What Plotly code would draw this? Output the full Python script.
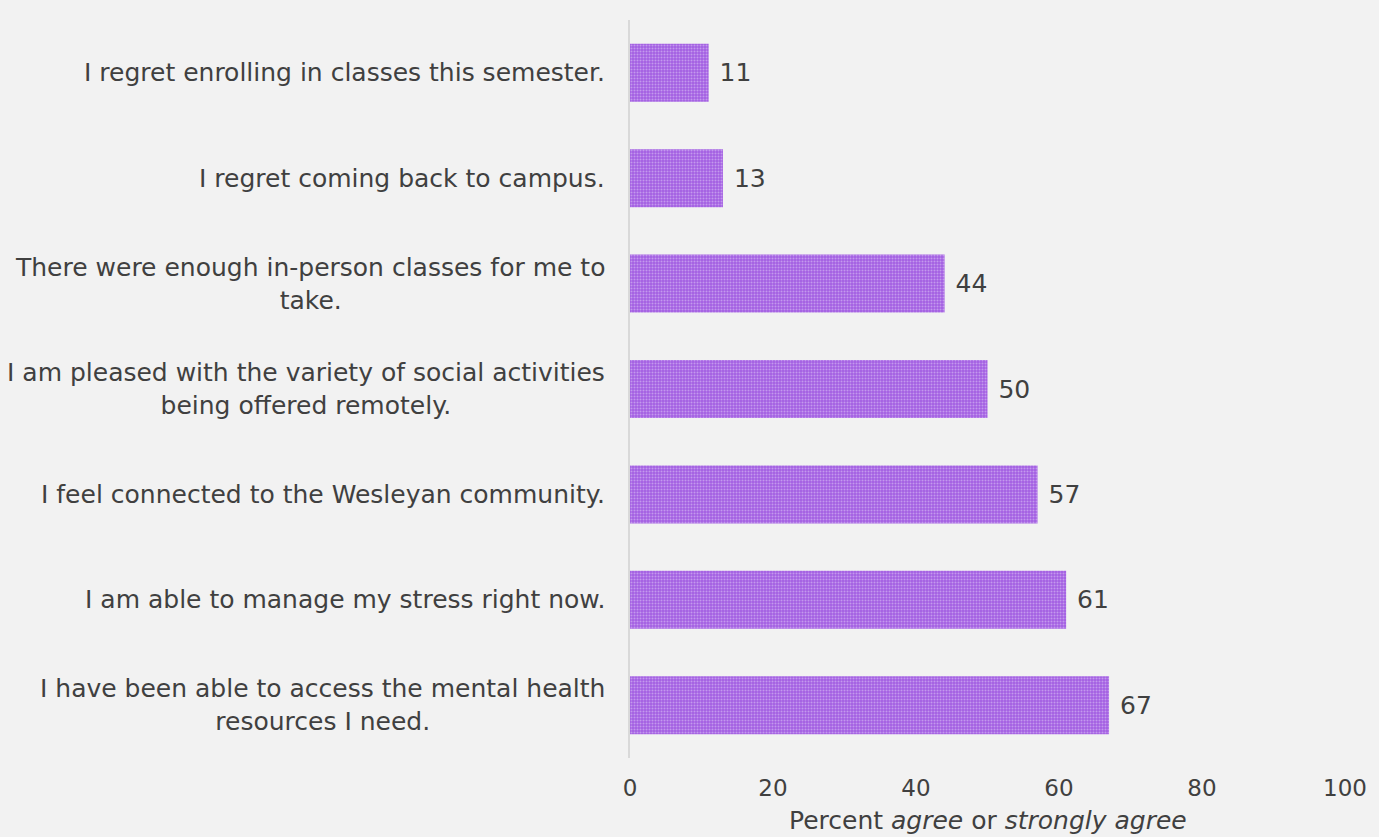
import plotly.graph_objects as go

categories = [
    "I regret enrolling in classes this semester.",
    "I regret coming back to campus.",
    "There were enough in-person classes for me to<br>take.",
    "I am pleased with the variety of social activities<br>being offered remotely.",
    "I feel connected to the Wesleyan community.",
    "I am able to manage my stress right now.",
    "I have been able to access the mental health<br>resources I need.",
]
values = [11, 13, 44, 50, 57, 61, 67]
x_ticks = [0, 20, 40, 60, 80, 100]
x_title = "Percent <i>agree</i> or <i>strongly agree</i>"

FONT = "DejaVu Sans, Arial, sans-serif"
TXT = "#404040"
BG = "#f2f2f2"

fig = go.Figure()
fig.add_trace(go.Bar(
    y=categories,
    x=values,
    orientation="h",
    width=0.55,
    marker=dict(
        color="#a35fe2",
        line=dict(width=0),
        pattern=dict(shape=".", fgcolor="#e6d4f8", bgcolor="#a35fe2", size=3, solidity=0.35),
    ),
    texttemplate=" %{x}",
    textposition="outside",
    textfont=dict(family=FONT, size=25, color=TXT),
    cliponaxis=False,
    hoverinfo="skip",
))

for c in categories:
    fig.add_annotation(
        x=0, xref="paper", y=c, yref="y",
        text=c, showarrow=False, xanchor="right", align="center",
        xshift=-23, font=dict(family=FONT, size=25, color=TXT),
    )

fig.add_annotation(
    x=0.5, xref="paper", y=0, yref="paper", yanchor="middle",
    yshift=-62, text=x_title, showarrow=False,
    font=dict(family=FONT, size=25, color=TXT),
)

fig.update_layout(
    width=1379, height=837,
    paper_bgcolor=BG, plot_bgcolor=BG,
    margin=dict(l=630, r=34, t=20, b=79),
    showlegend=False,
    xaxis=dict(
        range=[0, 100], tickvals=x_ticks, showgrid=False, zeroline=False,
        showline=False, ticks="", ticklabelstandoff=14, automargin=False,
        tickfont=dict(family=FONT, size=23, color=TXT),
    ),
    yaxis=dict(
        categoryorder="array", categoryarray=categories, autorange="reversed",
        showticklabels=False, showgrid=False, zeroline=False, automargin=False,
        showline=True, linecolor="#d9d9d9", linewidth=2, ticks="",
    ),
)

fig.write_html(
    "out.html",
    config={"displayModeBar": False},
    post_script="document.body.style.margin='0';document.body.style.background='%s';" % BG,
)
